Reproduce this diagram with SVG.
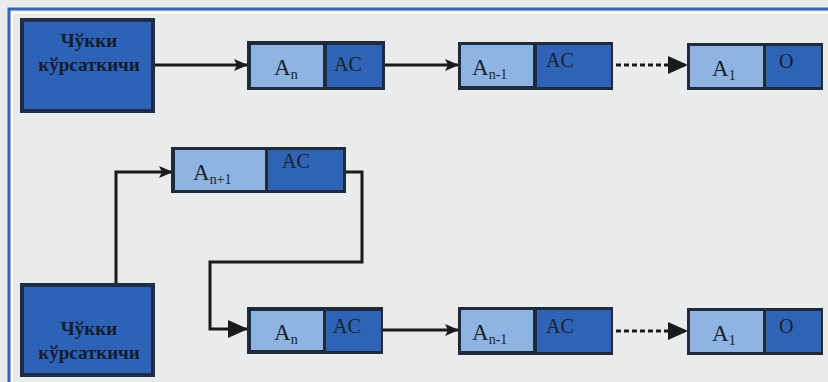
<svg xmlns="http://www.w3.org/2000/svg" width="828" height="382" viewBox="0 0 828 382">
<defs>
<marker id="arr" markerWidth="14" markerHeight="12" refX="13" refY="6" orient="auto" markerUnits="userSpaceOnUse" viewBox="0 0 14 12">
<path d="M0,0 L14,6 L0,12 L3,6 z" fill="#1a1a1a"/>
</marker>
<marker id="arrBig" markerWidth="20" markerHeight="18" refX="19" refY="9" orient="auto" markerUnits="userSpaceOnUse" viewBox="0 0 20 18">
<path d="M0,0 L20,9 L0,18 z" fill="#1a1a1a"/>
</marker>
</defs>
<style>
.bg{fill:#e9ebed}
.frame{fill:none;stroke:#3d65ad;stroke-width:3}
.head{fill:#2e62b6;stroke:#1d2d4a;stroke-width:4}
.outer{fill:#1f2a3a}
.light{fill:#8eb4e3}
.dark{fill:#2f63b6}
.t{font-family:"Liberation Serif","Times New Roman",serif;fill:#1a1f2a}
.a{font-size:23px}
.s{font-size:14px}
.ac{font-size:20px}
.ht{font-family:"Liberation Serif","Times New Roman",serif;font-weight:bold;font-size:19px;fill:#141c2c;text-anchor:middle}
.ln{fill:none;stroke:#1a1a1a;stroke-width:3}
.dot{fill:none;stroke:#1a1a1a;stroke-width:3;stroke-dasharray:5,3}
</style>
<rect class="bg" x="0" y="0" width="828" height="382"/>
<path class="frame" d="M9,382 L9,9 L828,9"/>
<line x1="12" y1="13" x2="12" y2="382" stroke="#ffffff" stroke-width="2"/>
<line x1="12" y1="13" x2="828" y2="13" stroke="#ffffff" stroke-width="2"/>

<g id="connectors">
<line class="ln" x1="155" y1="65" x2="247" y2="65" marker-end="url(#arr)"/>
<line class="ln" x1="383" y1="65" x2="458" y2="65" marker-end="url(#arr)"/>
<line class="dot" x1="592" y1="65" x2="687" y2="65" marker-end="url(#arrBig)"/>
<path class="ln" d="M116,283 L116,172 L172,172" marker-end="url(#arr)"/>
<path class="ln" d="M345,172 L362,172 L362,262 L210,262 L210,329 L247,329" marker-end="url(#arrBig)"/>
<line class="ln" x1="383" y1="330" x2="458" y2="330" marker-end="url(#arr)"/>
<line class="dot" x1="592" y1="331" x2="687" y2="331" marker-end="url(#arrBig)"/>
</g>

<g id="head1">
<rect class="head" x="22" y="20" width="131" height="91"/>
<text class="ht" x="89" y="47">Чўкки</text>
<text class="ht" x="89" y="71">кўрсаткичи</text>
</g>

<g id="top-an">
<rect class="outer" x="247" y="41" width="138" height="49"/>
<rect class="light" x="251" y="45" width="72" height="42"/>
<rect class="dark" x="327" y="45" width="55" height="42"/>
<text class="t a" x="274" y="75">A<tspan class="s" dy="4">n</tspan></text>
<text class="t ac" x="334" y="71">AC</text>
</g>

<g id="top-an1">
<rect class="outer" x="458" y="42" width="155" height="48"/>
<rect class="light" x="461" y="45" width="72" height="41"/>
<rect class="dark" x="537" y="45" width="74" height="42"/>
<text class="t a" x="472" y="75">A<tspan class="s" dy="4">n-1</tspan></text>
<text class="t ac" x="546" y="67">AC</text>
</g>

<g id="top-a1">
<rect class="outer" x="687" y="43" width="136" height="47"/>
<rect class="light" x="690" y="46" width="73" height="41"/>
<rect class="dark" x="766" y="46" width="55" height="41"/>
<text class="t a" x="712" y="76">A<tspan class="s" dy="4">1</tspan></text>
<text class="t ac" x="779" y="68">O</text>
</g>

<g id="mid-anp1">
<rect class="outer" x="171" y="147" width="175" height="46"/>
<rect class="light" x="175" y="150" width="90" height="40"/>
<rect class="dark" x="268" y="150" width="75" height="40"/>
<text class="t a" x="193" y="180">A<tspan class="s" dy="4">n+1</tspan></text>
<text class="t ac" x="282" y="168">AC</text>
</g>

<g id="head2">
<rect class="head" x="22" y="285" width="131" height="90"/>
<text class="ht" x="89" y="335">Чўкки</text>
<text class="ht" x="89" y="359">кўрсаткичи</text>
</g>

<g id="bot-an">
<rect class="outer" x="247" y="307" width="136" height="47"/>
<rect class="light" x="251" y="311" width="72" height="39"/>
<rect class="dark" x="326" y="311" width="55" height="40"/>
<text class="t a" x="274" y="340">A<tspan class="s" dy="4">n</tspan></text>
<text class="t ac" x="333" y="333">AC</text>
</g>

<g id="bot-an1">
<rect class="outer" x="458" y="307" width="155" height="48"/>
<rect class="light" x="461" y="310" width="72" height="41"/>
<rect class="dark" x="537" y="310" width="74" height="42"/>
<text class="t a" x="472" y="340">A<tspan class="s" dy="4">n-1</tspan></text>
<text class="t ac" x="546" y="333">AC</text>
</g>

<g id="bot-a1">
<rect class="outer" x="687" y="308" width="136" height="47"/>
<rect class="light" x="690" y="311" width="73" height="41"/>
<rect class="dark" x="766" y="311" width="55" height="41"/>
<text class="t a" x="712" y="341">A<tspan class="s" dy="4">1</tspan></text>
<text class="t ac" x="779" y="333">O</text>
</g>
</svg>
